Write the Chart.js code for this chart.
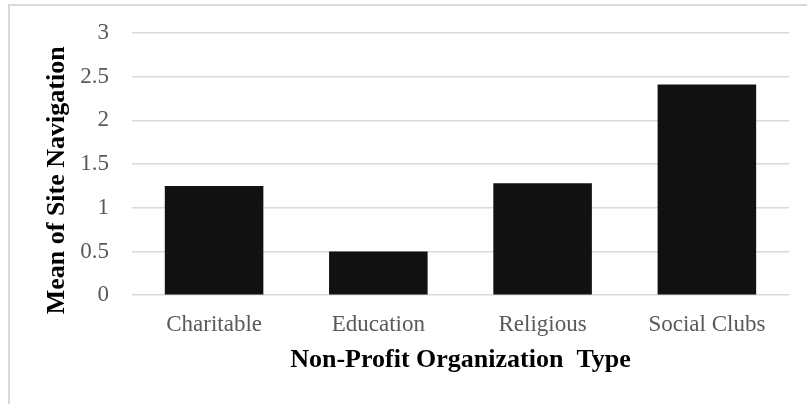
<!DOCTYPE html>
<html>
<head>
<meta charset="utf-8">
<script src="https://cdn.jsdelivr.net/npm/chart.js@4"></script>
<style>
    html, body { margin: 0; padding: 0; background: #fff; overflow: hidden; }
    #frame { position: absolute; left: 8px; top: 4px; width: 900px; height: 500px;
             border-left: 2px solid #d9d9d9; border-top: 2px solid #d9d9d9; }
    #wrap { position: absolute; left: 0; top: 0; width: 807px; height: 404px; }
</style>
</head>
<body>
<div id="frame"></div>
<div id="wrap"><canvas id="chart" width="807" height="404"></canvas></div>
<script>
const categories = ['Charitable', 'Education', 'Religious', 'Social Clubs'];
const meanValues = [1.25, 0.5, 1.28, 2.41];
const yTicks = [0, 0.5, 1, 1.5, 2, 2.5, 3];

const serif = "'Liberation Serif', 'Times New Roman', serif";

const ctx = document.getElementById('chart').getContext('2d');
new Chart(ctx, {
    type: 'bar',
    data: {
        labels: categories,
        datasets: [{
            data: meanValues,
            backgroundColor: '#111111',
            borderColor: '#111111',
            borderWidth: 0,
            categoryPercentage: 1,
            barPercentage: 0.6
        }]
    },
    options: {
        responsive: false,
        animation: false,
        layout: { padding: { left: 42, right: 18, top: 33, bottom: 28 } },
        plugins: { legend: { display: false }, tooltip: { enabled: false } },
        scales: {
            x: {
                grid: { display: false, drawTicks: false },
                border: { display: false },
                ticks: { color: '#595959', font: { family: serif, size: 23 }, padding: 16 },
                title: {
                    display: true,
                    text: 'Non-Profit Organization  Type',
                    color: '#000',
                    font: { family: serif, size: 26, weight: 'bold' },
                    padding: { top: -10, bottom: 0 }
                }
            },
            y: {
                min: 0,
                max: 3,
                afterBuildTicks: axis => { axis.ticks = yTicks.map(v => ({ value: v })); },
                // keep the top label's overhang from pushing the plot down
                afterFit: axis => { axis.paddingTop = 0; },
                grid: { color: '#d9d9d9', lineWidth: 1.5, drawTicks: false },
                border: { display: false },
                ticks: {
                    color: '#595959',
                    font: { family: serif, size: 23 },
                    padding: 23,
                    callback: v => String(v)
                },
                title: {
                    display: true,
                    text: 'Mean of Site Navigation     ',
                    color: '#000',
                    font: { family: serif, size: 26, weight: 'bold' },
                    padding: { top: 0, bottom: -16 }
                }
            }
        }
    }
});
</script>
</body>
</html>
